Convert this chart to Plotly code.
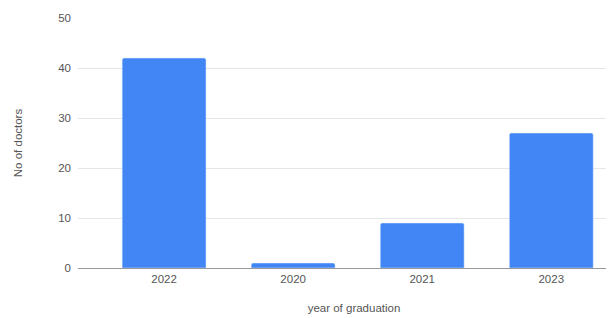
import plotly.graph_objects as go

years = ["2022", "2020", "2021", "2023"]
doctors = [42, 1, 9, 27]
y_ticks = [0, 10, 20, 30, 40, 50]

fig = go.Figure(go.Bar(x=years, y=doctors, marker_color="#4285F4", width=0.65))

fig.update_layout(
    width=622, height=318,
    margin=dict(l=70, r=0, t=10, b=58),
    paper_bgcolor="white", plot_bgcolor="white",
    font=dict(family="Liberation Sans, Arial, sans-serif", size=11.5, color="#555"),
    barcornerradius=2,
    showlegend=False,
)
fig.update_xaxes(
    type="category", range=[-0.667, 3.61],
    showgrid=False, showline=True, linecolor="#999", linewidth=1,
    ticks="", tickfont=dict(size=11.5, color="#555"),
    title=dict(text="year of graduation", font=dict(size=11.5, color="#555"), standoff=20),
)
fig.update_yaxes(
    range=[0, 50], tickvals=y_ticks, showgrid=True, gridcolor="#e6e6e6",
    zeroline=False, showline=False, ticks="", ticklen=0,
    ticklabelstandoff=6,
    tickfont=dict(size=11.5, color="#555"),
    title=dict(text="No of doctors", font=dict(size=11.5, color="#555"), standoff=33),
)
fig.write_html("out.html")
